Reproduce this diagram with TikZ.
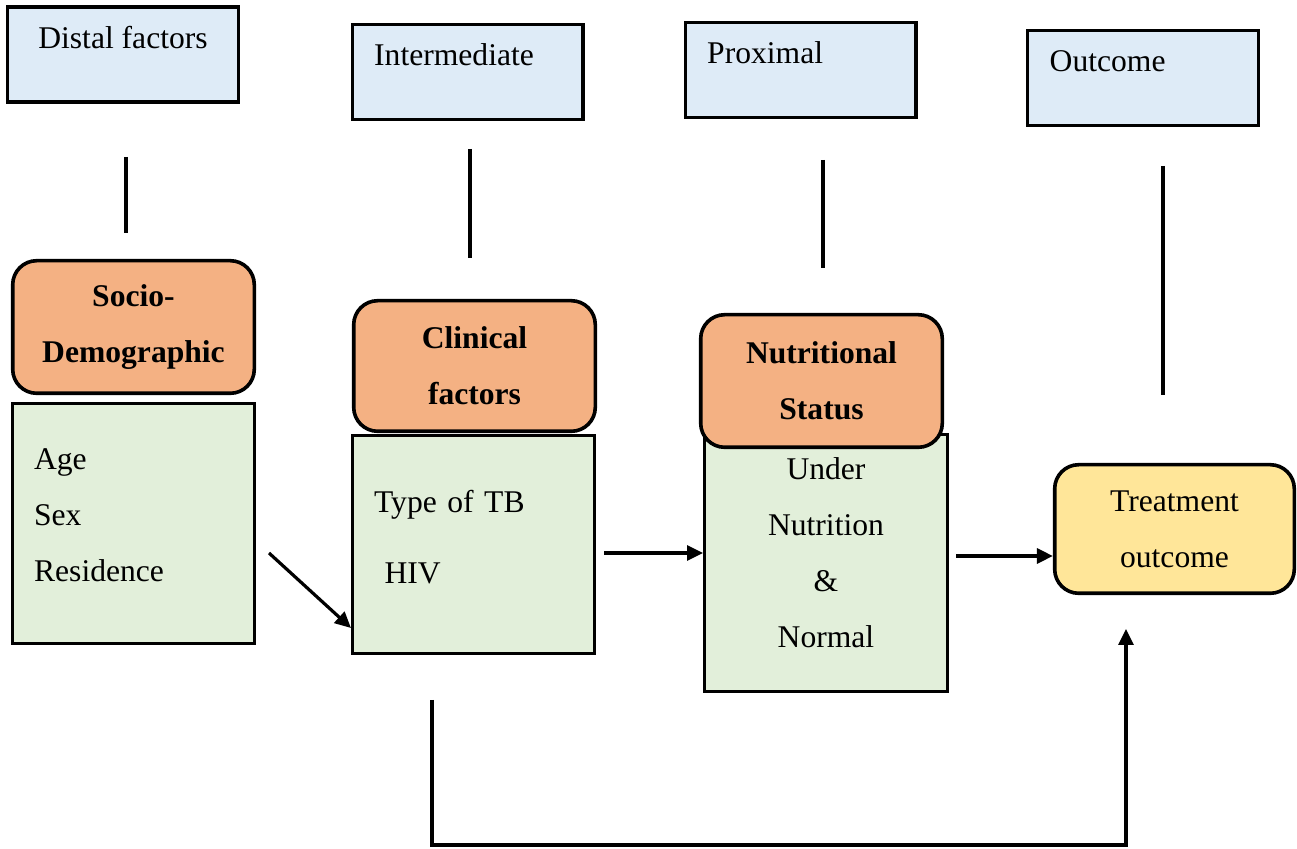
\documentclass[tikz,border=0pt]{standalone}
\usepackage{fontspec}
\setmainfont{Liberation Serif}
\usepackage{tikz}
\usetikzlibrary{arrows.meta}

\definecolor{hdrblue}{HTML}{DEEBF7}
\definecolor{facorange}{HTML}{F4B183}
\definecolor{vargreen}{HTML}{E2EFDA}
\definecolor{outyellow}{HTML}{FFE699}

\begin{document}
\begin{tikzpicture}[x=0.5pt,y=-0.5pt,>={Triangle[length=8pt,width=7.5pt]},
	every node/.style={font=\fontsize{15.8}{28}\selectfont},
	hdrbox/.style={draw,line width=1.7pt,fill=hdrblue,minimum width=115.3pt,
		minimum height=47.5pt,inner xsep=11pt,text width=93.3pt,align=left,text depth=17pt},
	facbox/.style={draw,line width=1.8pt,fill=facorange,rounded corners=12pt,
		minimum width=120.8pt,minimum height=66.3pt,align=center,font=\fontsize{15.8}{28}\selectfont\bfseries},
	varbox/.style={draw,line width=1.7pt,fill=vargreen,minimum width=120.8pt,
		inner xsep=10.7pt,text width=99.4pt,align=left},
	outbox/.style={draw,line width=1.8pt,fill=outyellow,rounded corners=12pt,
		minimum width=119.8pt,minimum height=64.3pt,align=center},
	arr/.style={->,line width=1.6pt},
	vline/.style={line width=1.8pt}]

	\useasboundingbox (0,0) rectangle (1297,849);

	% level headers
	\node[hdrbox,text width=,align=center] (dist) at (123,54.5) {Distal factors};
	\node[hdrbox] (inter) at (467.5,72) {Intermediate};
	\node[hdrbox] (prox) at (800.5,70) {Proximal};
	\node[hdrbox] (outc) at (1143,78) {Outcome};

	\foreach \x/\a/\b in {126/157/233, 470/149/258, 823/160/268, 1163/166/395}
		\draw[vline] (\x,\a) -- (\x,\b);

	% variable boxes (drawn first, headers sit on top)
	\node[varbox,minimum height=119.8pt,text depth=64pt] (sdvar) at (133.5,523.5)
		{Age\\Sex\\Residence};
	\node[varbox,minimum height=108.8pt,text depth=43.3pt] (clvar) at (473.5,544.5)
		{Type of TB\\[7.5pt]\ HIV};
	\node[varbox,minimum width=121.3pt,minimum height=128.3pt,align=center,text depth=94.8pt] (nsvar) at (826,563)
		{Under\\Nutrition\\\&\\Normal};

	\node[facbox] (sd) at (133.5,327) {Socio-\\Demographic};
	\node[facbox,minimum height=65.3pt] (cl) at (474.5,366) {Clinical\\factors};
	\node[facbox] (ns) at (821.5,381) {Nutritional\\Status};

	\node[outbox] (tr) at (1174.5,529) {Treatment\\outcome};

	% arrows
	\coordinate (a1) at (269,553);
	\coordinate (a2) at (604,553);
	\coordinate (a3) at (956,556);
	\draw[arr] (a1) -- (clvar.west |- 0,628);
	\draw[arr] (a2) -- (a2 -| nsvar.west);
	\draw[arr] (a3) -- (a3 -| tr.west);

	\coordinate (bs) at (432,700);
	\coordinate (bc) at (1126,845);
	\coordinate (bt) at (1126,629);
	\draw[arr] (bs) |- (bc) -- (bt);

\end{tikzpicture}
\end{document}
